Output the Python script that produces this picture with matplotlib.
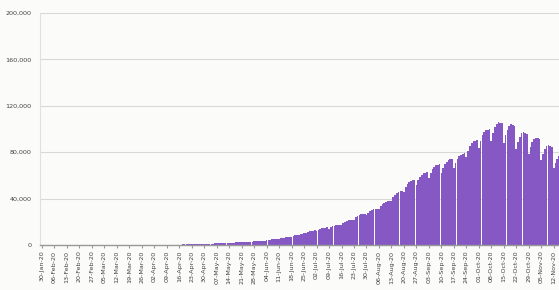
import matplotlib
matplotlib.use("Agg")
import matplotlib.pyplot as plt
import numpy as np
import pandas as pd

# daily new cases, one row per week
daily_cases = [
    0, 0, 0, 0, 0, 0, 0,
    0, 0, 0, 0, 0, 0, 0,
    0, 0, 0, 0, 0, 0, 0,
    0, 0, 0, 0, 0, 0, 0,
    0, 0, 0, 0, 0, 0, 1,
    1, 2, 3, 5, 6, 8, 10,
    12, 15, 18, 20, 24, 27, 30,
    40, 45, 55, 60, 70, 75, 80,
    90, 100, 110, 120, 130, 140, 150,
    160, 170, 190, 200, 220, 230, 250,
    280, 300, 330, 350, 380, 400, 420,
    440, 460, 490, 510, 540, 560, 580,
    640, 700, 760, 800, 850, 880, 920,
    1000, 1080, 1150, 1210, 1260, 1300, 1350,
    1380, 1480, 1560, 1620, 1680, 1700, 1760,
    1800, 1950, 2080, 2150, 2220, 2260, 2300,
    2400, 2600, 2750, 2850, 2950, 3000, 3050,
    3100, 3350, 3550, 3700, 3800, 3850, 3900,
    4100, 4450, 4750, 4950, 5100, 5150, 5200,
    5500, 5900, 6200, 6450, 6600, 6700, 6800,
    7300, 7900, 8400, 8700, 9000, 9200, 9400,
    10000, 10800, 11400, 11900, 12200, 12400, 12600,
    12400, 13300, 14000, 14500, 14900, 15000, 15200,
    14200, 15300, 16100, 16600, 17000, 17200, 17400,
    17600, 19000, 20000, 20700, 21200, 21500, 21800,
    22000, 23800, 25000, 25900, 26500, 26800, 27000,
    25800, 27800, 29200, 30200, 30800, 31000, 31300,
    31000, 33500, 35300, 36500, 37200, 37800, 38300,
    38000, 41000, 43200, 44600, 45600, 46300, 47000,
    46000, 50000, 52800, 54500, 55500, 56000, 56500,
    52000, 56000, 59000, 60800, 62000, 62500, 63000,
    58000, 62500, 65500, 67500, 68700, 69300, 69800,
    62000, 66500, 70000, 72000, 73300, 74000, 74500,
    66000, 71000, 74500, 76500, 78000, 78500, 79000,
    76000, 81500, 85500, 88000, 89500, 90000, 90500,
    84000, 90000, 94500, 97300, 99000, 99500, 100000,
    90000, 97000, 102000, 104500, 106000, 105500, 105000,
    88000, 95000, 99500, 102500, 104000, 103500, 102500,
    83000, 89000, 93500, 96300, 97500, 97000, 96000,
    78500, 84500, 88500, 91000, 92500, 92000, 91000,
    73000, 78500, 82500, 85000, 86000, 85500, 84500,
    66000, 71000, 74500, 76800, 77800, 77300, 76500,
    60000, 65000, 68500, 70500, 71500, 71000, 70000,
]
start_date = "2020-01-30"
y_ticks = [0, 40000, 80000, 120000, 160000, 200000]

days = np.arange(len(daily_cases))
dates = pd.date_range(start_date, periods=len(daily_cases), freq="D")
tick_days = days[::7]
tick_labels = [d.strftime("%d-%b-%y") for d in dates[::7]]

fig = plt.figure(figsize=(5.59, 2.90), dpi=100, facecolor="#fbfbf9")
# axes run past the right edge, the reference is cropped there
ax = fig.add_axes([0.0716, 0.155, 0.962, 0.80])
ax.set_facecolor("#fbfbf9")

ax.bar(days, daily_cases, width=0.95, color="#8658c4", linewidth=0)

ax.set_xlim(-1.1, len(daily_cases) - 0.5)
ax.set_ylim(0, 200000)
ax.set_yticks(y_ticks)
ax.set_yticklabels([f"{v:,}" for v in y_ticks], fontsize=4.6, color="#444444")
ax.yaxis.grid(True, color="#d8d8d8", linewidth=0.8)
ax.set_axisbelow(True)

ax.set_xticks(tick_days)
ax.set_xticklabels(tick_labels, rotation=90, fontsize=4.6, color="#444444")
ax.tick_params(axis="x", length=2, color="#999999", pad=2)
ax.tick_params(axis="y", length=0, pad=6)

for s in ["top", "right"]:
    ax.spines[s].set_visible(False)
ax.spines["left"].set_color("#e0e0e0")
ax.spines["bottom"].set_color("#999999")
ax.spines["bottom"].set_linewidth(1.0)

fig.savefig("out.png", dpi=100, facecolor=fig.get_facecolor())
